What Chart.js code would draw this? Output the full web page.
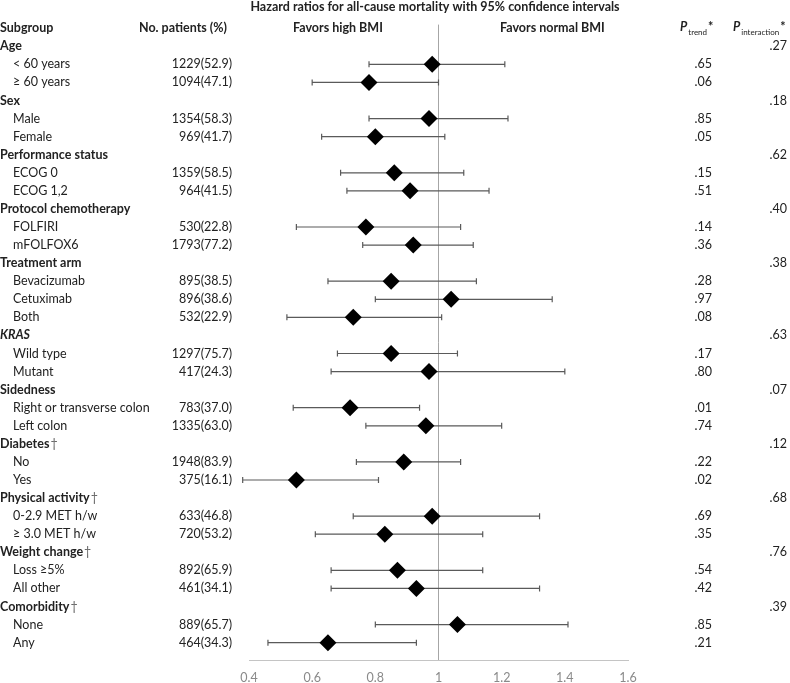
<!DOCTYPE html>
<html>
<head>
<meta charset="utf-8">
<script src="https://cdn.jsdelivr.net/npm/chart.js@4.4.1/dist/chart.umd.min.js"></script>
<style>
  html, body { margin: 0; padding: 0; background: #fff; }
  #wrap { width: 790px; height: 683px; }
</style>
</head>
<body>
<div id="wrap"><canvas id="forest" width="790" height="683"></canvas></div>
<script>
// Subgroup rows, top to bottom (group headers have no estimate)
const subgroups = [
  "Age", "< 60 years", "\u2265 60 years",
  "Sex", "Male", "Female",
  "Performance status", "ECOG 0", "ECOG 1,2",
  "Protocol chemotherapy", "FOLFIRI", "mFOLFOX6",
  "Treatment arm", "Bevacizumab", "Cetuximab", "Both",
  "KRAS", "Wild type", "Mutant",
  "Sidedness", "Right or transverse colon", "Left colon",
  "Diabetes", "No", "Yes",
  "Physical activity", "0-2.9 MET h/w", "\u2265 3.0 MET h/w",
  "Weight change", "Loss \u22655%", "All other",
  "Comorbidity", "None", "Any"
];
const isGroup = [
  1, 0, 0, 1, 0, 0, 1, 0, 0, 1, 0, 0, 1, 0, 0, 0, 1, 0, 0,
  1, 0, 0, 1, 0, 0, 1, 0, 0, 1, 0, 0, 1, 0, 0
];
const dagger = [
  0, 0, 0, 0, 0, 0, 0, 0, 0, 0, 0, 0, 0, 0, 0, 0, 0, 0, 0,
  0, 0, 0, 1, 0, 0, 1, 0, 0, 1, 0, 0, 1, 0, 0
];
const patients = [
  "", "1229(52.9)", "1094(47.1)",
  "", "1354(58.3)", "969(41.7)",
  "", "1359(58.5)", "964(41.5)",
  "", "530(22.8)", "1793(77.2)",
  "", "895(38.5)", "896(38.6)", "532(22.9)",
  "", "1297(75.7)", "417(24.3)",
  "", "783(37.0)", "1335(63.0)",
  "", "1948(83.9)", "375(16.1)",
  "", "633(46.8)", "720(53.2)",
  "", "892(65.9)", "461(34.1)",
  "", "889(65.7)", "464(34.3)"
];
const hazardRatio = [
  null, 0.98, 0.78,
  null, 0.97, 0.80,
  null, 0.86, 0.91,
  null, 0.77, 0.92,
  null, 0.85, 1.04, 0.73,
  null, 0.85, 0.97,
  null, 0.72, 0.96,
  null, 0.89, 0.55,
  null, 0.98, 0.83,
  null, 0.87, 0.93,
  null, 1.06, 0.65
];
const ciLow = [
  null, 0.78, 0.60,
  null, 0.78, 0.63,
  null, 0.69, 0.71,
  null, 0.55, 0.76,
  null, 0.65, 0.80, 0.52,
  null, 0.68, 0.66,
  null, 0.54, 0.77,
  null, 0.74, 0.38,
  null, 0.73, 0.61,
  null, 0.66, 0.66,
  null, 0.80, 0.46
];
const ciHigh = [
  null, 1.21, 1.00,
  null, 1.22, 1.02,
  null, 1.08, 1.16,
  null, 1.07, 1.11,
  null, 1.12, 1.36, 1.01,
  null, 1.06, 1.40,
  null, 0.94, 1.20,
  null, 1.07, 0.81,
  null, 1.32, 1.14,
  null, 1.14, 1.32,
  null, 1.41, 0.93
];
const pTrend = [
  "", ".65", ".06",
  "", ".85", ".05",
  "", ".15", ".51",
  "", ".14", ".36",
  "", ".28", ".97", ".08",
  "", ".17", ".80",
  "", ".01", ".74",
  "", ".22", ".02",
  "", ".69", ".35",
  "", ".54", ".42",
  "", ".85", ".21"
];
const pInteraction = [
  ".27", "", "",
  ".18", "", "",
  ".62", "", "",
  ".40", "", "",
  ".38", "", "", "",
  ".63", "", "",
  ".07", "", "",
  ".12", "", "",
  ".68", "", "",
  ".76", "", "",
  ".39", "", ""
];
const xTicks = [0.4, 0.6, 0.8, 1, 1.2, 1.4, 1.6];

const FONT = "Lato, 'Open Sans', sans-serif";
const TEXT = "#222222";
const SIZE = "12.5px ";

const points = [];
hazardRatio.forEach((v, i) => {
  if (v !== null) points.push({ x: v, y: i });
});

// Error bars and the reference line at HR = 1
const whiskers = {
  id: "whiskers",
  beforeDatasetsDraw(chart) {
    const { ctx, chartArea, scales } = chart;
    const x1 = scales.x.getPixelForValue(1);
    ctx.save();
    ctx.strokeStyle = "#a6a6a6";
    ctx.lineWidth = 1;
    ctx.beginPath();
    ctx.moveTo(x1, chartArea.top);
    ctx.lineTo(x1, chartArea.bottom);
    ctx.stroke();

    ctx.strokeStyle = "#5a5a5a";
    ctx.lineWidth = 1.2;
    ciLow.forEach((lo, i) => {
      if (lo === null) return;
      const y = scales.y.getPixelForValue(i);
      const a = scales.x.getPixelForValue(lo);
      const b = scales.x.getPixelForValue(ciHigh[i]);
      ctx.beginPath();
      ctx.moveTo(a, y); ctx.lineTo(b, y);
      ctx.moveTo(a, y - 3); ctx.lineTo(a, y + 3);
      ctx.moveTo(b, y - 3); ctx.lineTo(b, y + 3);
      ctx.stroke();
    });
    ctx.restore();
  }
};

// Table text round the plot
const tableText = {
  id: "tableText",
  afterDraw(chart) {
    const { ctx, scales } = chart;
    const yAt = (i) => scales.y.getPixelForValue(i);
    ctx.save();
    ctx.textBaseline = "middle";
    ctx.fillStyle = TEXT;

    // title
    ctx.font = "bold " + SIZE + FONT;
    ctx.textAlign = "center";
    ctx.fillText("Hazard ratios for all-cause mortality with 95% confidence intervals", 435, 7);

    // header row
    const yh = yAt(-1);
    ctx.textAlign = "left";
    ctx.fillText("Subgroup", 0, yh);
    ctx.fillText("No. patients (%)", 139, yh);
    ctx.fillText("Favors high BMI", 293, yh);
    ctx.fillText("Favors normal BMI", 500, yh);

    const pHeader = (x, sub) => {
      ctx.font = "bold italic " + SIZE + FONT;
      ctx.textAlign = "left";
      ctx.fillText("P", x, yh - 1);
      const w = ctx.measureText("P").width;
      ctx.font = "8px " + FONT;
      ctx.fillText(sub, x + w + 1, yh + 4);
      const ws = ctx.measureText(sub).width;
      ctx.font = "bold " + SIZE + FONT;
      ctx.fillText("*", x + w + ws + 2, yh - 1);
    };
    pHeader(680, "trend");
    pHeader(733, "interaction");

    subgroups.forEach((label, i) => {
      const y = yAt(i);
      ctx.textAlign = "left";
      if (isGroup[i]) {
        ctx.font = (label === "KRAS" ? "bold italic " : "bold ") + SIZE + FONT;
        ctx.fillText(label, 0, y);
        if (dagger[i]) {
          const w = ctx.measureText(label).width;
          ctx.font = SIZE + FONT;
          ctx.fillStyle = "#666";
          ctx.fillText("\u2020", w + 1, y);
          ctx.fillStyle = TEXT;
        }
      } else {
        ctx.font = SIZE + FONT;
        ctx.fillText(label, 13, y);
      }
      ctx.font = SIZE + FONT;
      ctx.textAlign = "right";
      if (patients[i]) ctx.fillText(patients[i], 232, y);
      if (pTrend[i]) ctx.fillText(pTrend[i], 712, y);
      if (pInteraction[i]) ctx.fillText(pInteraction[i], 787, y);
    });
    ctx.restore();
  }
};

new Chart(document.getElementById("forest"), {
  type: "scatter",
  data: {
    datasets: [{
      data: points,
      pointStyle: "rectRot",
      pointRadius: 8.5,
      pointHoverRadius: 8.5,
      backgroundColor: "#000",
      borderWidth: 0
    }]
  },
  options: {
    responsive: false,
    animation: false,
    events: [],
    layout: { padding: { left: 249, right: 162, top: 24.6, bottom: 0 } },
    plugins: { legend: { display: false }, tooltip: { enabled: false } },
    scales: {
      x: {
        type: "linear",
        min: 0.4,
        max: 1.6,
        afterBuildTicks(scale) { scale.ticks = xTicks.map((v) => ({ value: v })); },
        afterFit(scale) { scale.height = 23; },
        grid: { display: false, drawTicks: false },
        border: { display: true, color: "#c4c4c4", width: 1 },
        ticks: {
          color: "#8a8a8a",
          padding: 10,
          font: { family: FONT, size: 12.5 },
          callback: (v) => String(v)
        }
      },
      y: {
        type: "linear",
        reverse: true,
        min: -1.2,
        max: 33.96,
        display: false
      }
    }
  },
  plugins: [whiskers, tableText]
});
</script>
</body>
</html>
